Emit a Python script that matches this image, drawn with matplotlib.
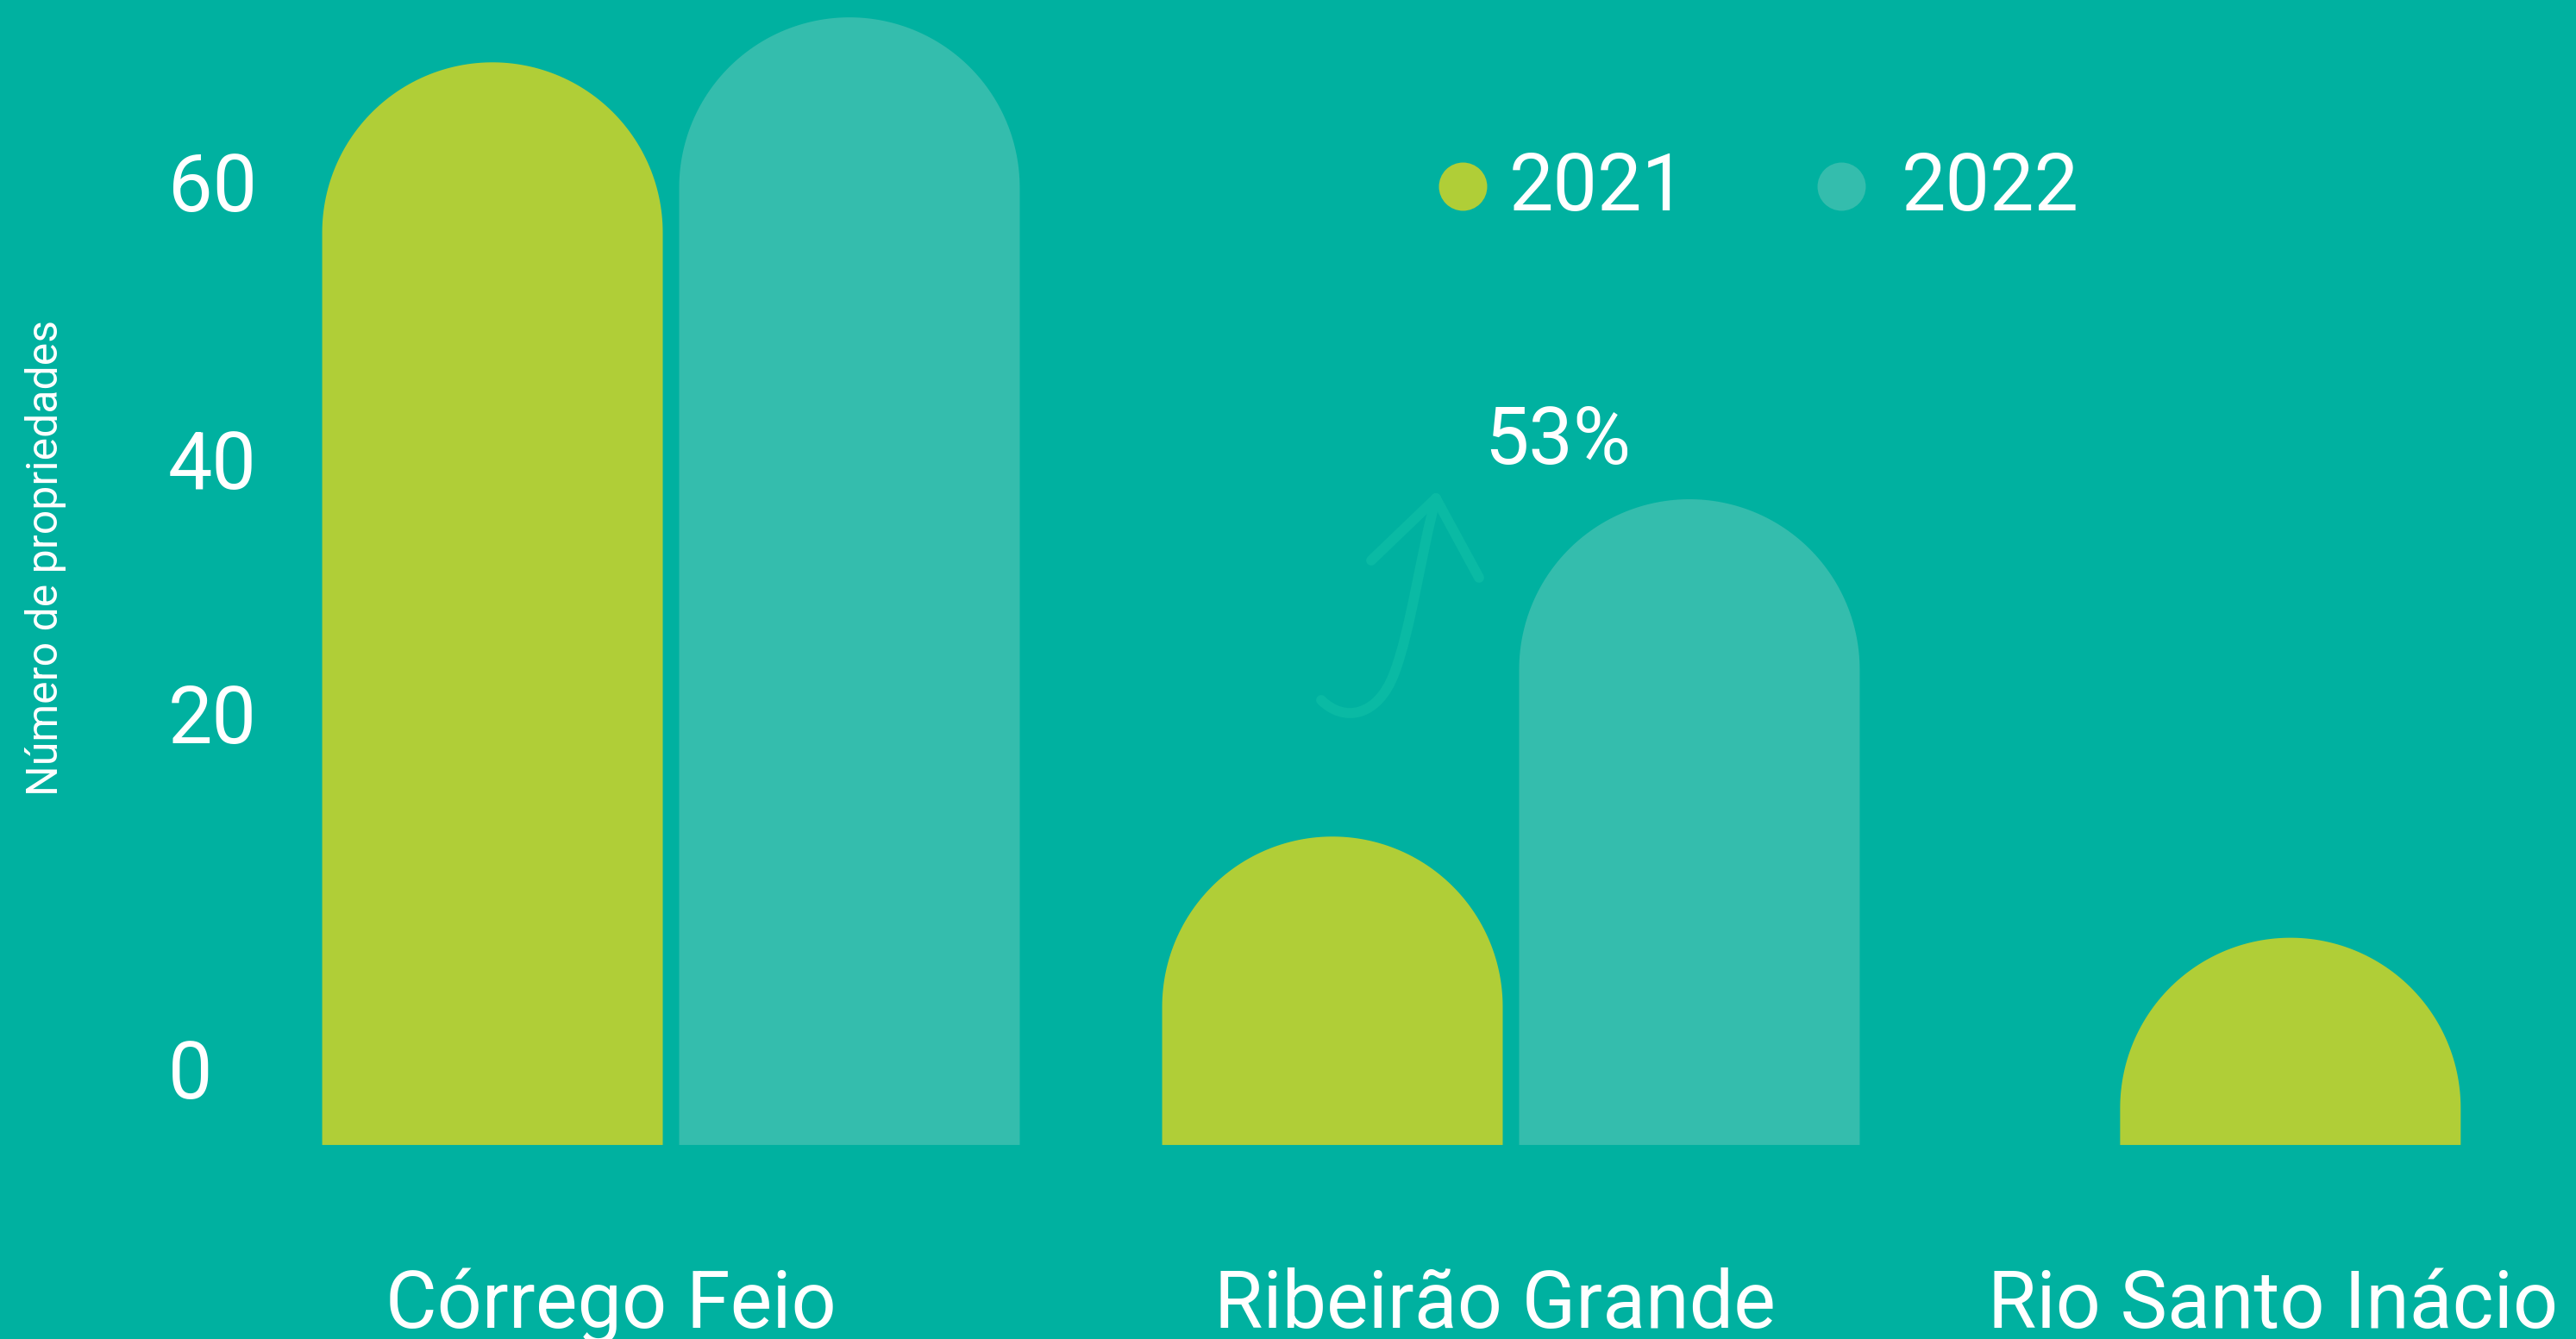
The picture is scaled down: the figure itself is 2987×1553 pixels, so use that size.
import numpy as np
import matplotlib.pyplot as plt
from matplotlib.path import Path
from matplotlib.patches import PathPatch

plt.rcParams['font.family'] = ['Roboto', 'DejaVu Sans']

# data
categories = ['Córrego Feio', 'Ribeirão Grande', 'Rio Santo Inácio']
series = ['2021', '2022']
values_2021 = [67.4, 19.2, 12.9]
values_2022 = [70.2, 40.2, None]
ytick_pos = [4.8, 26.9, 42.7, 60.0]
ytick_labels = ['0', '20', '40', '60']
change_label = '53%'
ylabel = 'Número de propriedades'

# style
bg = '#00B1A0'
colors = ['#B0CE37', '#34BDAD']
arrow_color = '#0ABAA4'
group_x = [0, 1, 1.928]
label_shift = [-0.072, -0.019, -0.021]
bar_w = 0.4055
half_step = 0.2125

W, H = 2987, 1553
fig = plt.figure(figsize=(W / 100, H / 100), dpi=100, facecolor=bg)
ax = fig.add_axes([0, 0, 1, 1])
ax.set_facecolor(bg)
xlim = (-0.7988, 2.268)
ylim = (-12.08, 71.28)
ax.set_xlim(*xlim)
ax.set_ylim(*ylim)
ax.axis('off')

px_x = W / (xlim[1] - xlim[0])
px_y = H / (ylim[1] - ylim[0])


def px(x, y):
    # reference pixel -> data coords (for decorations only)
    return xlim[0] + x / px_x, ylim[1] - y / px_y


def round_bar(x, h, color):
    ry = (bar_w / 2) * px_x / px_y
    t = np.linspace(0, np.pi, 120)
    xs = np.concatenate([[x - bar_w / 2, x + bar_w / 2], x + bar_w / 2 * np.cos(t)])
    ys = np.concatenate([[0, 0], (h - ry) + ry * np.sin(t)])
    ax.fill(xs, ys, color=color, lw=0)


for i, g in enumerate(group_x):
    vals = [values_2021[i], values_2022[i]]
    present = [(j, v) for j, v in enumerate(vals) if v is not None]
    if len(present) == 2:
        offs = [-half_step, half_step]
    else:
        offs = [0]
    for (j, v), o in zip(present, offs):
        round_bar(g + o, v, colors[j])
    ax.text(g + label_shift[i], -11.38, categories[i], color='white',
            fontsize=66, ha='center', va='baseline')

# y tick labels
for p, lab in zip(ytick_pos, ytick_labels):
    ax.text(195 / W, p - 1.88, lab, transform=ax.get_yaxis_transform(),
            color='white', fontsize=66, ha='left', va='baseline')

ax.text(53 / W, 36.55, ylabel, transform=ax.get_yaxis_transform(),
        color='white', fontsize=36, rotation=90, ha='center', va='center')

# legend
leg_dot_x = [0.9425, 1.3932]
leg_txt_x = [0.998, 1.465]
for j, name in enumerate(series):
    ax.scatter([leg_dot_x[j]], [59.69], s=40.3 ** 2, color=colors[j], lw=0)
    ax.text(leg_txt_x[j], 58.18, name, color='white', fontsize=66,
            ha='left', va='baseline')

# growth annotation: hand-drawn style arrow
ax.text(1.0554, 42.4, change_label, color='white', fontsize=66,
        ha='center', va='baseline')
verts = [px(1532, 812), px(1558, 838), px(1598, 832), px(1617, 780),
         px(1636, 730), px(1648, 640), px(1665, 578)]
codes = [Path.MOVETO] + [Path.CURVE4] * 6
ax.add_patch(PathPatch(Path(verts, codes), fill=False, edgecolor=arrow_color,
                       lw=8.5, capstyle='round', joinstyle='round'))
tip = px(1665, 578)
for end in [px(1590, 650), px(1715, 670)]:
    ax.plot([tip[0], end[0]], [tip[1], end[1]], color=arrow_color,
            lw=8.5, solid_capstyle='round')

fig.savefig('out.png', dpi=100, facecolor=bg)
